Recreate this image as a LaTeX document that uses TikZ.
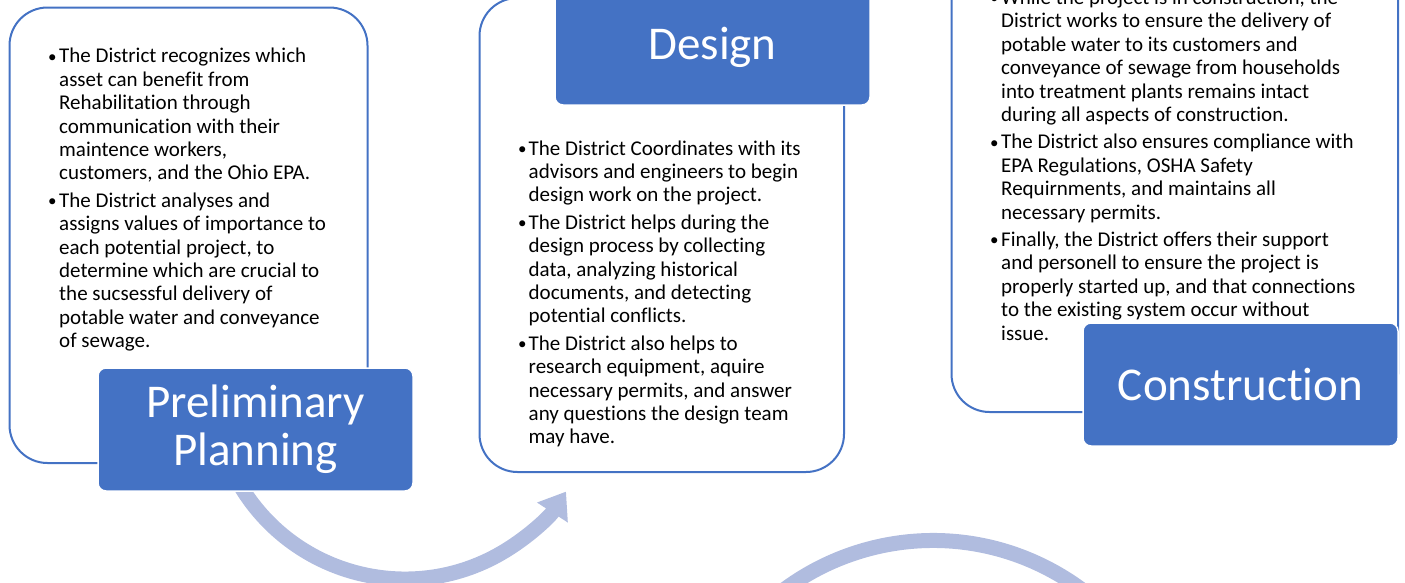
\documentclass[tikz,border=0pt]{standalone}
\usepackage{fontspec}
\setmainfont{Carlito}[Ligatures=NoCommon]
\usetikzlibrary{arrows.meta}
\definecolor{accent}{RGB}{68,114,196}
\definecolor{arrowblue}{RGB}{176,188,223}
\newcommand{\boxfont}{\fontsize{21}{23.4}\selectfont}
\newcommand{\headfont}{\fontsize{47}{48}\selectfont}
\newcommand{\bulletmark}{\raisebox{0.8pt}{\fontsize{17}{17}\selectfont •}}

\begin{document}
\begin{tikzpicture}
  [x=1pt,y=-1pt,
   panel/.style={draw=accent,line width=2pt,fill=white,rounded corners=38pt,inner sep=0pt},
   tag/.style={fill=accent,draw=white,line width=1.5pt,rounded corners=8pt,text=white,
     font=\headfont,align=center,minimum width=315pt,minimum height=123pt,inner sep=0pt},
   body/.style={anchor=north west,inner sep=0pt,font=\boxfont},
   flow/.style={draw=arrowblue,line width=15pt}]
  \useasboundingbox (0,0) rectangle (1405,582);
  \clip (0,0) rectangle (1405,582);

  % outlined panels
  \node[panel,minimum width=358pt,minimum height=455.5pt] (planbox) at (188.5,235.25) {};
  \node[panel,minimum width=364.5pt,minimum height=474pt] (designbox) at (661.75,235) {};
  \node[panel,minimum width=446.5pt,minimum height=452pt] (buildbox) at (1174.75,186) {};

  % circular arrows
  \draw[flow,-{Triangle[width=35pt,length=25pt]}] (405,387) ++(150:192)
    arc[start angle=150,end angle=33,radius=192];
  \draw[flow] (933,790) ++(-150:249.5) arc[start angle=-150,end angle=-30,radius=249.5];

  % stage labels
  \node[tag] (plan) at (255.5,429.5) {Preliminary\\Planning};
  \node[tag,text depth=0pt] (design) at (712.5,43.5) {Design};
  \node[tag] (build) at (1240.5,384.5) {Construction};

  % bullet texts
  \node[body] (plantext) at (48,46.3) {\begin{tabular}{@{}p{11pt}@{}l@{}}
    \bulletmark & The District recognizes which\\
      & asset can benefit from\\
      & Rehabilitation through\\
      & communication with their\\
      & maintence workers,\\
      & customers, and the Ohio EPA.\\[4pt]
    \bulletmark & The District analyses and\\
      & assigns values of importance to\\
      & each potential project, to\\
      & determine which are crucial to\\
      & the sucsessful delivery of\\
      & potable water and conveyance\\
      & of sewage.
  \end{tabular}};
  \node[body] (designtext) at (518,138.6) {\begin{tabular}{@{}p{10.5pt}@{}l@{}}
    \bulletmark & The District Coordinates with its\\
      & advisors and engineers to begin\\
      & design work on the project.\\[4pt]
    \bulletmark & The District helps during the\\
      & design process by collecting\\
      & data, analyzing historical\\
      & documents, and detecting\\
      & potential conflicts.\\[4pt]
    \bulletmark & The District also helps to\\
      & research equipment, aquire\\
      & necessary permits, and answer\\
      & any questions the design team\\
      & may have.
  \end{tabular}};
  \node[body] (buildtext) at (990,-12) {\begin{tabular}{@{}p{11pt}@{}l@{}}
    \bulletmark & While the project is in construction, the\\
      & District works to ensure the delivery of\\
      & potable water to its customers and\\
      & conveyance of sewage from households\\
      & into treatment plants remains intact\\
      & during all aspects of construction.\\[4pt]
    \bulletmark & The District also ensures compliance with\\
      & EPA Regulations, OSHA Safety\\
      & Requirnments, and maintains all\\
      & necessary permits.\\[4pt]
    \bulletmark & Finally, the District offers their support\\
      & and personell to ensure the project is\\
      & properly started up, and that connections\\
      & to the existing system occur without\\
      & issue.
  \end{tabular}};
\end{tikzpicture}
\end{document}
